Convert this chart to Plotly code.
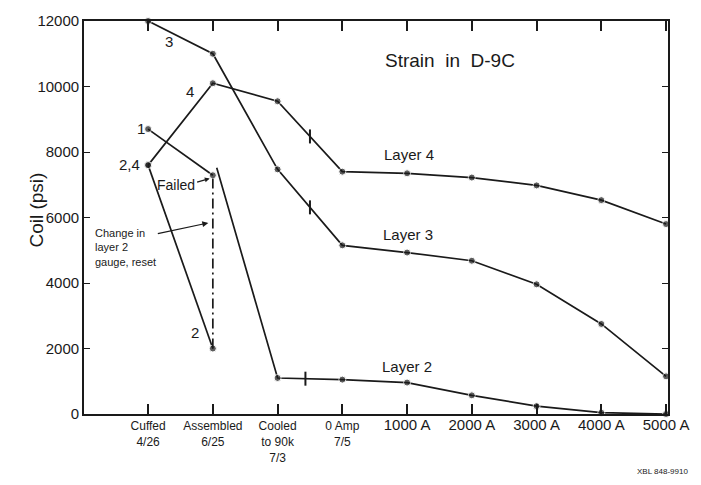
import plotly.graph_objects as go

# ---- data ----
categories = ["Cuffed<br>4/26", "Assembled<br>6/25", "Cooled<br>to 90k<br>7/3", "0 Amp<br>7/5",
              "1000 A", "2000 A", "3000 A", "4000 A", "5000 A"]
cat_pos = [0, 1, 2, 3, 4, 5, 6, 7, 8]

layer4_x = [0, 1, 2, 3, 4, 5, 6, 7, 8]
layer4_y = [7600, 10100, 9550, 7400, 7350, 7220, 6980, 6530, 5800]

layer3_x = [0, 1, 2, 3, 4, 5, 6, 7, 8]
layer3_y = [12000, 11000, 7470, 5150, 4930, 4680, 3960, 2750, 1150]

layer1_x = [0, 1]
layer1_y = [8700, 7290]

layer2a_x = [0, 1]
layer2a_y = [7600, 2000]

gauge_x = [1, 1]
gauge_y = [2000, 7290]

layer2b_x = [1.06, 2, 3, 4, 5, 6, 7, 8]
layer2b_y = [7520, 1100, 1050, 960, 570, 240, 40, 0]

yticks = [0, 2000, 4000, 6000, 8000, 10000, 12000]

INK = "#1a1a1a"
FONT = "Liberation Sans, Arial, Helvetica, sans-serif"

fig = go.Figure()

def add_line(xs, ys, markers=True, dash="solid", first_marker=True):
    sizes = [7] * len(xs)
    if not first_marker:
        sizes[0] = 0
    fig.add_trace(go.Scatter(
        x=xs, y=ys, mode="lines+markers" if markers else "lines",
        line=dict(color=INK, width=1.7, dash=dash),
        marker=dict(color=INK, size=sizes, symbol="circle"),
        cliponaxis=False, showlegend=False, hoverinfo="skip"))

add_line(layer3_x, layer3_y)
add_line(layer4_x, layer4_y)
add_line(layer1_x, layer1_y)
add_line(layer2a_x, layer2a_y)
add_line(gauge_x, gauge_y, markers=False, dash="10px,4px,2px,4px")
add_line(layer2b_x, layer2b_y, first_marker=False)

# break marks between "Cooled" and "0 Amp"
bx, by = [], []
for xs, ys, frac in [(layer4_x, layer4_y, 0.5), (layer3_x, layer3_y, 0.5), (layer2b_x, layer2b_y, 0.43)]:
    i = xs.index(2)
    bx.append(xs[i] + frac * (xs[i + 1] - xs[i]))
    by.append(ys[i] + frac * (ys[i + 1] - ys[i]))
fig.add_trace(go.Scatter(x=bx, y=by, mode="markers",
                         marker=dict(symbol="line-ns-open", size=10, color=INK,
                                     line=dict(color=INK, width=2)),
                         showlegend=False, hoverinfo="skip"))

ticktext = []
for c in categories:
    if c.endswith(" A"):
        ticktext.append("<span style='font-size:15px'>%s</span>" % c)
    else:
        ticktext.append(c)

fig.update_layout(
    width=701, height=485,
    margin=dict(l=84, r=24, t=17, b=71),
    paper_bgcolor="white", plot_bgcolor="white",
    font=dict(family=FONT, color=INK),
    xaxis=dict(range=[-0.99, 8.03], tickvals=cat_pos, ticktext=ticktext,
               tickfont=dict(size=12), ticks="inside", ticklen=10, tickwidth=1.5, tickcolor=INK,
               showline=True, linecolor=INK, linewidth=1.8, mirror="ticks",
               showgrid=False, zeroline=False),
    yaxis=dict(range=[0, 12000], tickvals=yticks, ticktext=[str(v) for v in yticks],
               tickfont=dict(size=15), ticks="inside", ticklen=6, tickwidth=1.2, tickcolor=INK,
               showline=True, linecolor=INK, linewidth=1.8, mirror="ticks",
               showgrid=False, zeroline=False),
)

def label(x, y, text, size=14, **kw):
    fig.add_annotation(x=x, y=y, text=text, showarrow=False,
                       font=dict(size=size, family=FONT, color=INK), **kw)

label(0.33, 11370, "3", 15)
label(0.65, 9855, "4", 15)
label(-0.11, 8730, "1", 15)
label(-0.29, 7620, "2,4", 15)
label(0.73, 2480, "2", 15)
label(0.43, 6980, "Failed", 14)
label(4.67, 10790, "Strain  in  D-9C", 19)
label(4.03, 7920, "Layer 4", 15, xanchor="center")
label(4.02, 5470, "Layer 3", 15, xanchor="center")
label(4.0, 1450, "Layer 2", 15, xanchor="center")
label(-0.85, 5079, "Change in<br>layer 2<br>gauge, reset", 11, xanchor="left", align="left")

# arrows
fig.add_annotation(x=0.93, y=5835, ax=-52, ay=11, text="", showarrow=True,
                   arrowhead=2, arrowsize=1, arrowwidth=1.2, arrowcolor=INK)
fig.add_annotation(x=0.95, y=7190, ax=-14, ay=4, text="", showarrow=True,
                   arrowhead=2, arrowsize=0.8, arrowwidth=1.2, arrowcolor=INK)

# y axis title
fig.add_annotation(xref="paper", yref="paper", x=-0.102, y=0.52, text="Coil (psi)",
                   textangle=-90, showarrow=False, font=dict(size=19, family=FONT, color=INK))

# reference code
fig.add_annotation(xref="paper", yref="paper", x=1.037, y=-0.163, xanchor="right",
                   text="XBL 848-9910", showarrow=False, font=dict(size=8, family=FONT, color=INK))

fig.write_html("out.html", config={"displayModeBar": False},
               post_script="document.body.style.margin='0';document.body.style.overflow='hidden';")
